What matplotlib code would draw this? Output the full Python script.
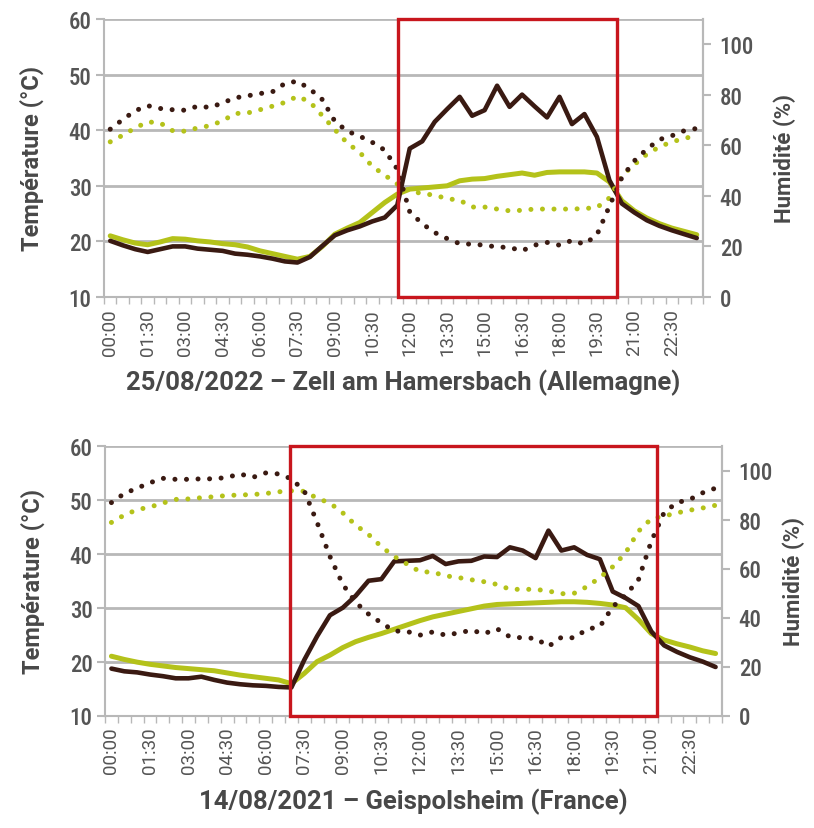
import matplotlib
matplotlib.use("Agg")
import matplotlib.pyplot as plt
import matplotlib.font_manager as fm
from matplotlib.patches import Rectangle

avail = {f.name for f in fm.fontManager.ttflist}


def pick(cands):
    for c in cands:
        if c in avail:
            return c
    return "DejaVu Sans"


FONT_C = pick(["Roboto Condensed", "Liberation Sans Narrow", "Roboto"])
FONT_N = pick(["Roboto", "Lato", "Open Sans"])
plt.rcParams["font.family"] = [FONT_C, "DejaVu Sans"]

# ---- data ----
times = [f"{h:02d}:{m:02d}" for h in range(24) for m in (0, 30)]
tick_labels = times[::3]

top_title = "25/08/2022 \u2013 Zell am Hamersbach (Allemagne)"
bot_title = "14/08/2021 \u2013 Geispolsheim (France)"

top_temp_dark = [20.1,19.3,18.6,18.1,18.6,19.1,19.1,18.7,18.5,18.3, 17.8,17.6,17.3,16.9,16.4,16.2,17.2,19.2,21.1,22.0,
                 22.7,23.6,24.3,26.5,36.7,38.0,41.5,43.8,46.0,42.6, 43.6,48.0,44.2,46.4,44.3,42.3,46.0,41.1,42.9,38.8,
                 31.0,26.8,25.2,23.8,22.8,22.0,21.3,20.6]
top_temp_green = [21.0,20.3,19.7,19.4,19.9,20.5,20.4,20.1,19.9,19.6, 19.4,19.0,18.3,17.8,17.3,16.8,17.3,19.1,21.3,22.4,
                  23.4,25.2,27.0,28.5,29.4,29.6,29.8,30.0,30.9,31.2, 31.3,31.7,32.0,32.3,31.9,32.4,32.5,32.5,32.5,32.3,
                  30.7,27.3,25.5,24.2,23.2,22.4,21.8,21.2]
top_hum_dark = [66.4,70.2,73.7,75.7,74.6,74.1,73.9,75.5,75.0,76.8, 78.8,79.6,80.5,81.2,84.5,85.4,82.3,78.1,69.5,65.6,
                63.6,61.2,58.1,50.6,33.7,29.0,25.5,23.1,21.1,20.9, 20.5,19.8,19.6,18.3,20.5,21.6,20.5,22.4,20.9,24.6,
                35.9,47.3,53.9,58.5,62.3,63.8,65.8,66.7]
top_hum_green = [61.4,64.0,66.9,69.3,68.9,65.8,65.6,66.9,67.8,69.7, 72.6,72.8,74.1,75.5,77.0,79.4,77.2,71.7,66.2,60.9,
                 57.2,51.7,48.2,44.7,42.0,40.9,40.3,38.9,38.3,35.6, 35.6,34.8,34.1,34.3,34.8,34.8,34.8,34.8,35.0,35.4,
                 39.2,48.0,52.4,56.5,59.4,61.4,62.7,64.0]

bot_temp_dark = [18.7,18.2,18.0,17.6,17.3,16.9,16.9,17.2,16.6,16.1, 15.8,15.6,15.5,15.3,15.2,20.3,24.7,28.6,30.0,32.2,
                 35.0,35.3,38.6,38.7,38.8,39.6,38.1,38.6,38.7,39.5, 39.4,41.2,40.6,39.2,44.3,40.6,41.2,39.8,39.0,33.0,
                 31.8,30.3,25.6,23.0,21.8,20.8,20.0,19.0]
bot_temp_green = [21.0,20.4,19.9,19.5,19.2,18.9,18.7,18.5,18.3,17.9, 17.5,17.2,16.9,16.6,15.9,17.8,20.0,21.2,22.6,23.7,
                  24.5,25.2,26.0,26.8,27.6,28.3,28.8,29.3,29.8,30.3, 30.6,30.7,30.8,30.9,31.0,31.1,31.1,31.0,30.8,30.5,
                  30.0,27.8,25.2,24.0,23.3,22.7,22.0,21.5]
bot_hum_dark = [86.9,90.6,92.8,95.0,96.8,96.4,96.4,96.6,96.6,97.2, 98.6,97.2,99.0,98.6,96.6,91.7,78.8,64.9,53.5,46.2,
                41.4,37.8,34.5,34.3,32.8,34.1,32.8,33.7,34.8,33.4, 35.4,32.1,31.7,31.5,28.2,31.9,31.7,35.2,36.3,44.4,
                49.1,55.4,71.1,82.9,86.9,88.2,90.9,92.8]
bot_hum_green = [78.8,81.8,84.0,85.1,86.7,88.2,88.4,88.9,89.3,89.8, 90.0,90.2,90.6,91.3,91.7,91.5,88.7,86.7,82.7,77.7,
                 73.9,68.9,64.9,61.8,58.7,58.5,57.0,56.3,55.4,54.6, 53.5,51.5,51.5,51.5,50.8,49.7,49.9,52.6,56.3,60.7,
                 66.4,75.2,80.3,81.4,82.7,83.8,84.7,85.8]

top_box = (23.06, 40.6)
bot_box = (13.89, 42.44)

# ---- style ----
DARK = "#3a1a12"
GREEN = "#b4c21a"
RED = "#c8161d"
GRID = "#b8b8b8"
TXT = "#484848"
TICKTXT = "#555555"

W, H = 814, 829
fig = plt.figure(figsize=(W / 100, H / 100), dpi=100)
DOT = (0, (0.01, 2.3))


def make_panel(rect, t_dark, t_green, h_dark, h_green, box, title, rpad):
    ax = fig.add_axes(rect)
    n = len(times)
    x = list(range(n))
    ax.set_xlim(-0.5, n - 0.5)
    ax.set_ylim(10, 60)
    ax.set_yticks([10, 20, 30, 40, 50, 60])
    for v in [20, 30, 40, 50, 60]:
        ax.axhline(v, color=GRID, lw=2.0, zorder=0)
    ax.spines["top"].set_visible(False)
    for s in ["left", "bottom", "right"]:
        ax.spines[s].set_color(GRID)
        ax.spines[s].set_linewidth(1.5)
    ax.tick_params(axis="y", length=6, width=1.5, color=GRID, labelsize=16.5,
                   labelcolor=TICKTXT, pad=3)
    for lab in ax.get_yticklabels():
        lab.set_fontweight("medium")
    ax.set_xticks([i - 0.5 for i in range(n + 1)])
    ax.set_xticklabels([])
    ax.set_xticks(x[::3], minor=True)
    ax.set_xticklabels(tick_labels, minor=True, rotation=90, fontsize=13.5,
                       color=TICKTXT, family=[FONT_N, "DejaVu Sans"])
    ax.tick_params(axis="x", which="major", length=5, width=1.0, color=GRID)
    ax.tick_params(axis="x", which="minor", length=0, pad=8)
    ax.set_ylabel("Température (°C)", fontsize=17, fontweight="bold", color=TXT,
                  labelpad=18, family=[FONT_N, "DejaVu Sans"])
    ax.set_xlabel(title, fontsize=18.5, fontweight="bold", color=TXT, labelpad=10,
                  family=[FONT_N, "DejaVu Sans"])

    ax.plot(x, t_green, color=GREEN, lw=3.6, solid_capstyle="round", zorder=3)
    ax.plot(x, t_dark, color=DARK, lw=3.3, solid_capstyle="round", zorder=4)

    ax2 = ax.twinx()
    ax2.set_ylim(0, 110)
    ax2.set_yticks([0, 20, 40, 60, 80, 100])
    ax2.spines["top"].set_visible(False)
    ax2.spines["right"].set_color(GRID)
    ax2.spines["right"].set_linewidth(1.5)
    ax2.spines["left"].set_visible(False)
    ax2.spines["bottom"].set_visible(False)
    ax2.tick_params(axis="y", length=6, width=1.5, color=GRID, labelsize=16.5,
                    labelcolor=TICKTXT, pad=6)
    for lab in ax2.get_yticklabels():
        lab.set_fontweight("medium")
    ax2.set_ylabel("Humidité (%)", fontsize=16, fontweight="bold", color=TXT,
                   labelpad=rpad, family=[FONT_N, "DejaVu Sans"])
    ax2.plot(x, h_green, color=GREEN, lw=3.6, linestyle=DOT,
             dash_capstyle="round", zorder=3)
    ax2.plot(x, h_dark, color=DARK, lw=3.6, linestyle=DOT,
             dash_capstyle="round", zorder=4)

    ax2.add_patch(Rectangle((box[0], 0), box[1] - box[0], 110, fill=False,
                            edgecolor=RED, lw=2.4, zorder=5, clip_on=False))
    return ax, ax2


make_panel([104 / W, (H - 298) / H, (703 - 104) / W, (298 - 20) / H],
           top_temp_dark, top_temp_green, top_hum_dark, top_hum_green, top_box, top_title, 14)
make_panel([105 / W, (H - 716.5) / H, (722 - 105) / W, (716.5 - 447) / H],
           bot_temp_dark, bot_temp_green, bot_hum_dark, bot_hum_green, bot_box, bot_title, 7)

fig.savefig("out.png", dpi=100, facecolor="white")
